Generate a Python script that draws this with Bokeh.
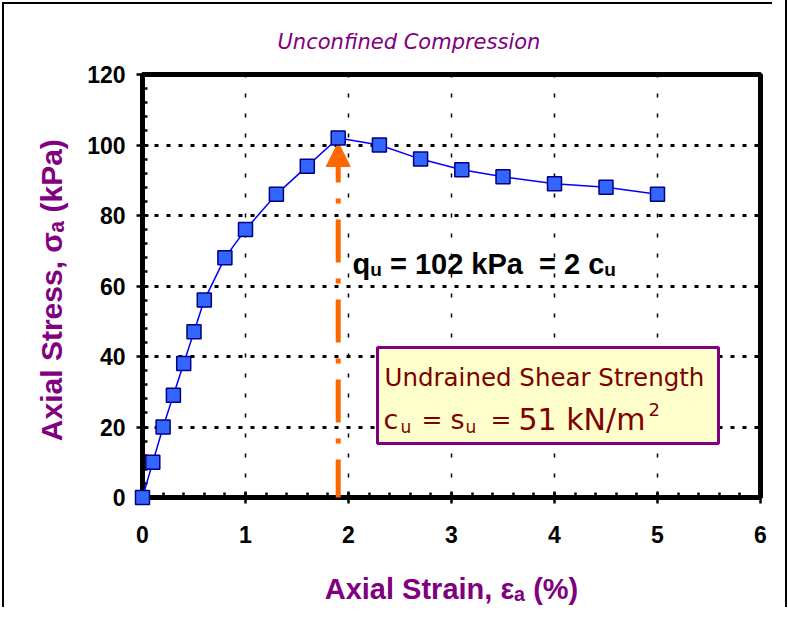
from bokeh.plotting import figure
from bokeh.models import (Range1d, SingleIntervalTicker, Label, BoxAnnotation,
                          Arrow, NormalHead, ColumnDataSource)
from bokeh.embed import file_html
from bokeh.resources import INLINE

# ---------------- data ----------------
strain = [0, 0.1, 0.2, 0.3, 0.4, 0.5, 0.6, 0.8, 1.0, 1.3, 1.6, 1.9,
          2.3, 2.7, 3.1, 3.5, 4.0, 4.5, 5.0]
stress = [0, 10, 20, 29, 38, 47, 56, 68, 76, 86, 94, 102,
          100, 96, 93, 91, 89, 88, 86]
x_range_vals = [0, 6]
y_range_vals = [0, 120]
x_tick_step = 1
y_tick_step = 20
peak_strain = 1.9
q_u = 102
c_u = 51

title_text = "Unconfined Compression"
x_label = "Axial Strain, \u03b5\u2090 (%)"
y_label = "Axial Stress, \u03c3\u2090  (kPa)"
box_title = "Undrained Shear Strength"

# ---------------- layout helpers ----------------
W, H = 772, 607
FL, FR, FT, FB = 142, 760, 74, 497      # frame edges in pixels


def dx(px):   # pixel x -> data x
    return x_range_vals[0] + (px - FL) / (FR - FL) * (x_range_vals[1] - x_range_vals[0])


def dy(py):   # pixel y -> data y
    return y_range_vals[0] + (FB - py) / (FB - FT) * (y_range_vals[1] - y_range_vals[0])


ARIAL_B = {' ': 278, '%': 889, '(': 333, ')': 333, ',': 278, '=': 584,
           'A': 722, 'P': 667, 'S': 667, 'a': 556, 'c': 556, 'e': 556, 'i': 278,
           'k': 556, 'l': 278, 'n': 611, 'q': 611, 'r': 389, 's': 556, 't': 333,
           'u': 611, 'x': 556}


def adv(s, size):
    return sum(ARIAL_B.get(ch, 556) for ch in s) / 1000.0 * size


p = figure(width=W, height=H, output_backend="svg", toolbar_location=None,
           x_range=Range1d(*x_range_vals), y_range=Range1d(*y_range_vals),
           min_border_left=FL, min_border_right=W - FR,
           min_border_top=FT, min_border_bottom=H - FB)
p.styles = {"box-shadow": "inset 2px 2px 0 0 white, inset 4px 4px 0 0 black, "
                          "13px 0 0 0 white, 15px 0 0 0 black"}
p.background_fill_color = "white"
p.border_fill_alpha = 0
p.outline_line_color = "black"
p.outline_line_width = 5

# title
p.title.text = title_text
p.title.text_font = "DejaVu Sans"
p.title.text_font_style = "italic"
p.title.text_font_size = "21px"
p.title.text_color = "#800080"
p.title.align = "left"
p.title.offset = 135
p.title.standoff = 42

p.xaxis.ticker = SingleIntervalTicker(interval=x_tick_step, num_minor_ticks=5)
p.yaxis.ticker = SingleIntervalTicker(interval=y_tick_step, num_minor_ticks=5)
for ax in (p.xaxis, p.yaxis):
    ax.axis_line_width = 5
    ax.axis_line_color = "black"
    ax.major_tick_line_width = 2.5
    ax.major_tick_line_color = "black"
    ax.minor_tick_line_width = 2.5
    ax.minor_tick_line_color = "black"
    ax.major_tick_in = 6
    ax.major_tick_out = 6
    ax.minor_tick_in = 5
    ax.minor_tick_out = 0
    ax.major_label_text_font = "Liberation Sans"
    ax.major_label_text_font_style = "bold"
    ax.major_label_text_font_size = "23px"
    ax.major_label_text_color = "black"
    ax.axis_label_text_font = "Liberation Sans"
    ax.axis_label_text_font_style = "bold"
    ax.axis_label_text_color = "#800080"
p.yaxis.major_label_standoff = 11
p.xaxis.major_label_standoff = 22
p.xaxis.axis_label = x_label
p.yaxis.axis_label = y_label
p.xaxis.axis_label_text_font_size = "29px"
p.yaxis.axis_label_text_font_size = "30px"
p.xaxis.axis_label_standoff = 27
p.yaxis.axis_label_standoff = 16

p.xgrid.grid_line_color = "black"
p.xgrid.grid_line_width = 1.5
p.xgrid.grid_line_dash = "4 16"
p.ygrid.grid_line_color = "black"
p.ygrid.grid_line_width = 3
p.ygrid.grid_line_dash = "4 8"

# ---------------- data marks ----------------
src = ColumnDataSource(dict(x=strain, y=stress))
p.line("x", "y", source=src, line_color="#0000FF", line_width=1.5, level="overlay")
p.scatter("x", "y", source=src, marker="square", size=14, fill_color="#3366FF",
          line_color="#000080", line_width=1.5, level="overlay")

# ---------------- peak arrow ----------------
arrow = Arrow(end=NormalHead(size=24, fill_color="#FF6600", line_color="#FF6600", line_width=1),
              x_start=peak_strain, y_start=dy(502), x_end=peak_strain, y_end=q_u - 1.3,
              line_color="#FF6600", line_width=5, line_dash="43 16 5 16")
p.add_layout(arrow)

# ---------------- info box ----------------
box = BoxAnnotation(left=dx(377), right=dx(718), top=dy(347), bottom=dy(443),
                    fill_color="#FFFFCC", fill_alpha=1.0,
                    line_color="#800080", line_width=3, line_alpha=1.0)
p.add_layout(box)


def lab(text, xr, yr, size, color, font="Liberation Sans", style="bold", align="left"):
    p.add_layout(Label(x=dx(xr), y=dy(yr), text=text, text_font=font,
                       text_font_style=style, text_font_size=f"{size}px",
                       text_color=color, text_align=align,
                       text_baseline="alphabetic"))


# q_u text
S, SS = 29, 19
x0 = 352
lab("q", x0, 263, S, "black")
x1 = x0 + adv("q", S)
lab("u", x1, 269, SS, "black")
x2 = x1 + adv("u", SS) + adv(" ", S)
t1 = f"= {q_u} kPa"
lab(t1, x2, 263, S, "black")
x3 = x2 + adv(t1, S) + adv("  ", S)
t2 = f"= {round(q_u / c_u)} c"
lab(t2, x3, 263, S, "black")
x4 = x3 + adv(t2, S)
lab("u", x4, 269, SS, "black")

# box text
BC = "#800000"
DV = dict(font="DejaVu Sans", style="normal")
lab(box_title, 384, 377, 24.5, BC, **DV)
lab("c", 383, 419, 27, BC, **DV)
lab("u", 400, 426, 17, BC, **DV)
lab("=", 421, 419, 25, BC, **DV)
lab("s", 450, 419, 27, BC, **DV)
lab("u", 465, 426, 17, BC, **DV)
lab("=", 490, 419, 25, BC, **DV)
lab(f"{c_u} kN/m", 518, 419, 30, BC, **DV)
lab("2", 648, 409, 18, BC, **DV)

open("out.html", "w").write(file_html(p, INLINE))
